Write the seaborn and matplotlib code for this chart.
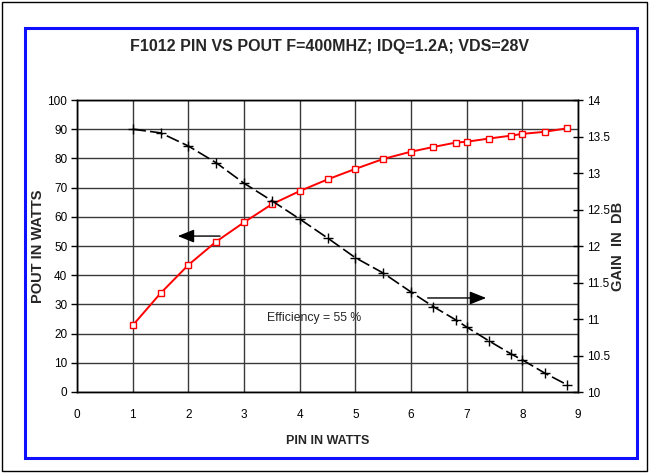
import matplotlib
matplotlib.use("Agg")
import matplotlib.pyplot as plt
import seaborn as sns
import pandas as pd
from matplotlib.patches import Rectangle

pin = [1, 1.5, 2, 2.5, 3, 3.5, 4, 4.5, 5, 5.5, 6, 6.4, 6.8, 7, 7.4, 7.8, 8, 8.4, 8.8]
pout = [22.8, 33.8, 43.5, 51.5, 58.1, 64.3, 68.8, 72.8, 76.4, 79.8, 82.3, 83.9, 85.4,
        85.7, 86.8, 87.8, 88.4, 89.1, 90.3]
gain = [13.60, 13.55, 13.37, 13.14, 12.86, 12.62, 12.37, 12.11, 11.84, 11.63, 11.37,
        11.17, 10.99, 10.89, 10.70, 10.52, 10.44, 10.26, 10.10]
x_ticks = list(range(0, 10))
left_ticks = list(range(0, 101, 10))
right_ticks = [10, 10.5, 11, 11.5, 12, 12.5, 13, 13.5, 14]
right_labels = ["10", "10.5", "11", "11.5", "12", "12.5", "13", "13.5", "14"]

df = pd.DataFrame({"pin": pin, "pout": pout, "gain": gain})

sns.set_style("white")
plt.rcParams["font.family"] = ["Liberation Sans", "DejaVu Sans"]

fig = plt.figure(figsize=(6.49, 4.73), dpi=100)
ax = fig.add_axes([77 / 649, 1 - 392 / 473, 501 / 649, 292 / 473])

sns.lineplot(data=df, x="pin", y="pout", ax=ax, color="red", lw=1.4,
             marker="s", markersize=4.6, markerfacecolor="white",
             markeredgecolor="red", markeredgewidth=1.0, zorder=3)

ax.set_xlim(0, 9)
ax.set_ylim(0, 100)
ax.set_xticks(x_ticks)
ax.set_yticks(left_ticks)
ax.grid(True, color="#3a3a3a", lw=1.0)
ax.set_axisbelow(True)
ax.tick_params(axis="both", labelsize=8.5, colors="black", length=4, width=1,
               direction="out", pad=3)
ax.tick_params(axis="x", pad=8)
ax.set_xlabel("PIN IN WATTS", fontsize=9, fontweight="bold", labelpad=10)
ax.set_ylabel("POUT IN WATTS", fontsize=10.5, fontweight="bold", va="center")
ax.yaxis.set_label_coords(-0.077, 0.5)
for s in ax.spines.values():
    s.set_color("black")
    s.set_linewidth(1.0)

ax2 = ax.twinx()
sns.lineplot(data=df, x="pin", y="gain", ax=ax2, color="black", lw=1.2,
             marker="+", markersize=7, markeredgecolor="black",
             markeredgewidth=1.0, zorder=4)
ax2.lines[0].set_dashes([8, 2.5])
ax2.set_ylim(10, 14)
ax2.set_yticks(right_ticks)
ax2.set_yticklabels(right_labels)
ax2.tick_params(axis="y", labelsize=8.5, colors="black", length=7, width=1,
                direction="inout", pad=3)
ax2.set_ylabel("GAIN  IN  DB", fontsize=10.5, fontweight="bold", va="center")
ax2.yaxis.set_label_coords(1.08, 0.5)
ax2.grid(False)
for s in ax2.spines.values():
    s.set_color("black")
    s.set_linewidth(1.0)

ax.annotate("", xy=(1.76, 53.4), xytext=(2.62, 53.4),
            arrowprops=dict(arrowstyle="-|>,head_length=1.0,head_width=0.4",
                            color="black", lw=1.0), zorder=5)
ax.annotate("", xy=(7.4, 32.2), xytext=(6.25, 32.2),
            arrowprops=dict(arrowstyle="-|>,head_length=1.0,head_width=0.4",
                            color="black", lw=1.0), zorder=5)
ax.text(4.26, 25.2, "Efficiency = 55 %", fontsize=8.8, ha="center", va="center",
        zorder=5)

fig.text(330 / 649, 1 - 47 / 473, "F1012 PIN VS POUT F=400MHZ; IDQ=1.2A; VDS=28V",
         ha="center", va="center", fontsize=11.5, fontweight="bold")

fig.patches.append(Rectangle((25 / 649, 1 - 458 / 473), 612 / 649, 430 / 473,
                             transform=fig.transFigure, fill=False,
                             edgecolor="#1010ff", lw=2.2, zorder=0))
fig.patches.append(Rectangle((2 / 649, 2 / 473), 645 / 649, 469 / 473,
                             transform=fig.transFigure, fill=False,
                             edgecolor="black", lw=1.0, zorder=0))

fig.savefig("out.png", dpi=100)
